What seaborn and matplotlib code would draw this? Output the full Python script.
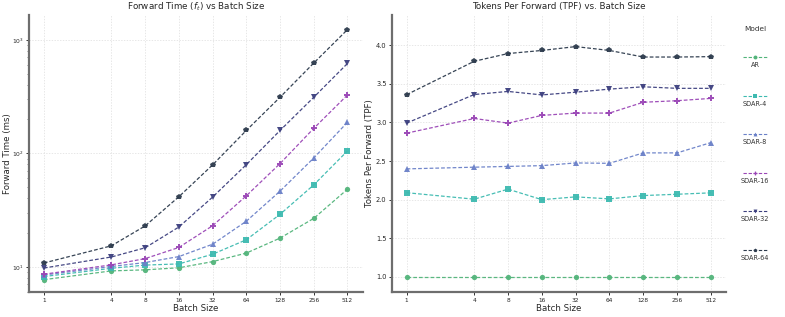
import numpy as np
import pandas as pd
import seaborn as sns
import matplotlib
matplotlib.use("Agg")
import matplotlib.pyplot as plt
from matplotlib.ticker import FixedLocator, FixedFormatter, NullFormatter

# ---- data ----
batch_sizes = [1, 4, 8, 16, 32, 64, 128, 256, 512]
models = ["AR", "SDAR-4", "SDAR-8", "SDAR-16", "SDAR-32", "SDAR-64"]

time_ar = [7.7, 9.2, 9.4, 9.8, 11.1, 13.2, 17.9, 26.7, 48.3]
time_sdar4 = [8.2, 9.7, 10.35, 10.6, 12.9, 17.3, 29.0, 52.7, 105]
time_sdar8 = [8.46, 10.06, 10.9, 12.3, 15.8, 25.2, 46.4, 91, 188]
time_sdar16 = [8.6, 10.4, 11.8, 14.8, 23.0, 42.2, 81.2, 166, 327]
time_sdar32 = [9.75, 12.2, 14.7, 22.4, 41.1, 79.4, 159, 312, 620]
time_sdar64 = [10.8, 15.3, 22.9, 41.4, 79, 159, 312, 625, 1232]

tpf_ar = [1.0, 1.0, 1.0, 1.0, 1.0, 1.0, 1.0, 1.0, 1.0]
tpf_sdar4 = [2.09, 2.006, 2.136, 2.0, 2.036, 2.01, 2.053, 2.07, 2.088]
tpf_sdar8 = [2.398, 2.42, 2.43, 2.44, 2.475, 2.47, 2.605, 2.605, 2.738]
tpf_sdar16 = [2.86, 3.05, 2.99, 3.09, 3.12, 3.12, 3.26, 3.28, 3.31]
tpf_sdar32 = [2.99, 3.36, 3.40, 3.355, 3.39, 3.43, 3.46, 3.44, 3.44]
tpf_sdar64 = [3.358, 3.79, 3.89, 3.93, 3.98, 3.93, 3.845, 3.845, 3.85]

times = [time_ar, time_sdar4, time_sdar8, time_sdar16, time_sdar32, time_sdar64]
tpfs = [tpf_ar, tpf_sdar4, tpf_sdar8, tpf_sdar16, tpf_sdar32, tpf_sdar64]

rows = []
for m, t, p in zip(models, times, tpfs):
    for b, tv, pv in zip(batch_sizes, t, p):
        rows.append({"Model": m, "batch": b, "time": tv, "tpf": pv})
df = pd.DataFrame(rows)

colors = ["#52b47a", "#3dbab0", "#6a80c8", "#9a46b6", "#3c3f7e", "#2c3a4c"]
palette = dict(zip(models, colors))
marker_list = ["o", "s", "^", "P", "v", "p"]
markers = dict(zip(models, marker_list))
dashes = {m: (3, 1.6) for m in models}

sns.set_theme(style="white")
plt.rcParams["font.family"] = ["DejaVu Sans"]

fig = plt.figure(figsize=(7.85, 3.17), dpi=100)
ax1 = fig.add_axes([0.037, 0.079, 0.425, 0.874])
ax2 = fig.add_axes([0.499, 0.079, 0.426, 0.874])

for ax, ycol in [(ax1, "time"), (ax2, "tpf")]:
    sns.lineplot(data=df, x="batch", y=ycol, hue="Model", style="Model",
                 palette=palette, markers=markers, dashes=dashes,
                 markersize=3.8, linewidth=0.9, alpha=0.95,
                 markeredgewidth=0, ax=ax, legend=False)
    ax.set_xscale("log", base=2)
    ax.xaxis.set_major_locator(FixedLocator(batch_sizes))
    ax.xaxis.set_major_formatter(FixedFormatter([str(b) for b in batch_sizes]))
    ax.xaxis.set_minor_locator(FixedLocator([]))
    ax.set_xlim(2 ** -0.44, 2 ** 9.45)
    ax.set_xlabel("Batch Size", fontsize=6.2)
    ax.xaxis.set_label_coords(0.5, -0.045)
    ax.grid(True, which="major", color="#dddddd", linestyle=(0, (2, 2)), linewidth=0.5)
    for s in ["top", "right"]:
        ax.spines[s].set_visible(False)
    for s in ["left", "bottom"]:
        ax.spines[s].set_color("#6e6e6e")
        ax.spines[s].set_linewidth(1.6)
    ax.tick_params(axis="x", which="major", labelsize=4.2, length=2.2,
                   width=0.7, color="#333333", pad=2, bottom=True)
    ax.tick_params(axis="y", which="major", labelsize=4.8, length=2.2,
                   width=0.7, color="#333333", pad=1.5, left=True)
    ax.tick_params(axis="y", which="minor", length=1.3, width=0.5,
                   color="#555555", left=True)

ax1.set_yscale("log")
ax1.set_ylim(6.0, 1660)
ax1.yaxis.set_minor_formatter(NullFormatter())
ax1.tick_params(axis="y", which="major", labelsize=4.3)
ax1.set_ylabel("Forward Time (ms)", fontsize=6.2)
ax1.yaxis.set_label_coords(-0.051, 0.5)
ax1.set_title("Forward Time ($f_t$) vs Batch Size", fontsize=6.3, pad=4)

ax2.set_ylim(0.806, 4.39)
ax2.set_yticks([1.0, 1.5, 2.0, 2.5, 3.0, 3.5, 4.0])
ax2.set_ylabel("Tokens Per Forward (TPF)", fontsize=6.2)
ax2.yaxis.set_label_coords(-0.052, 0.5)
ax2.set_title("Tokens Per Forward (TPF) vs. Batch Size", fontsize=6.3, pad=4)

# legend: handle above centered label
handles = [plt.Line2D([], [], color=palette[m], marker=markers[m], markersize=2.8,
                      markeredgewidth=0, linestyle=(0, (3, 1.6)), linewidth=0.8)
           for m in models]
leg = fig.legend(handles, [""] * len(models), loc="upper center",
                 bbox_to_anchor=(0.962, 1 - 49 / 317), frameon=False,
                 fontsize=5.5, handlelength=3.2,
                 handletextpad=0, labelspacing=3.86, borderpad=0)
fig.text(0.962, 1 - 29 / 317, "Model", ha="center", va="center",
         fontsize=5.3, color="#333333")
fig.canvas.draw()
inv = fig.transFigure.inverted()
for h, m in zip(leg.legend_handles, models):
    bb = h.get_window_extent(fig.canvas.get_renderer())
    cx = (bb.x0 + bb.x1) / 2
    cy = (bb.y0 + bb.y1) / 2
    fx, fy = inv.transform((cx, cy - 8))
    fig.text(fx, fy, m, ha="center", va="center", fontsize=4.7, color="#333333")

fig.savefig("out.png", dpi=100)
